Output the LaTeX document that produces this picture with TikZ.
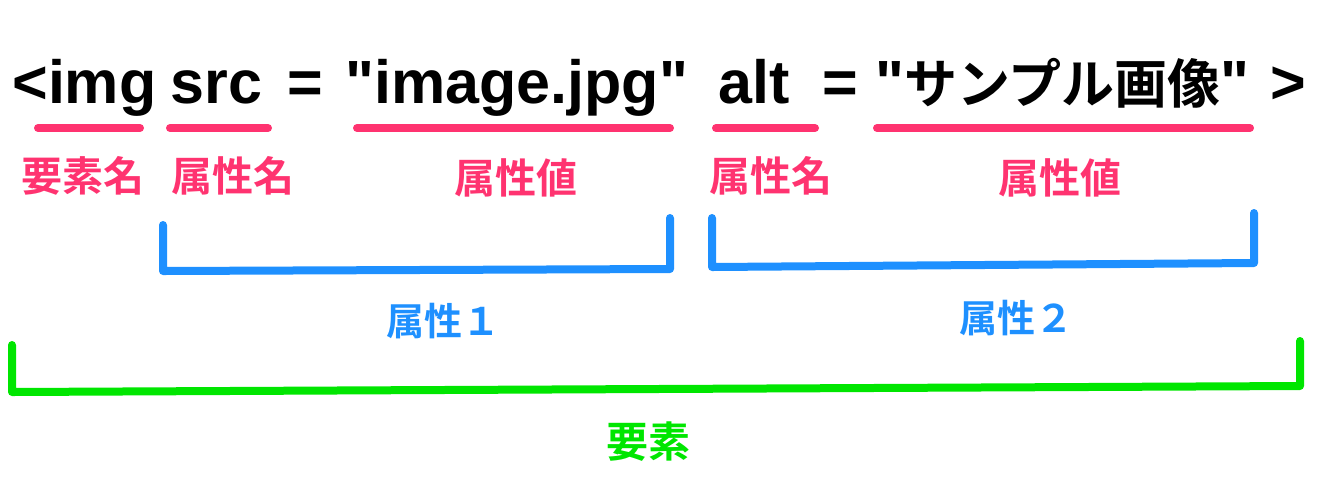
\documentclass[tikz,border=0pt]{standalone}
\usepackage{fontspec}
\setmainfont{Liberation Sans}[BoldFont=* Bold, Ligatures=NoCommon, Mapping=]
\newfontfamily\cjk{Noto Sans CJK JP}[BoldFont=* Bold]
\definecolor{pinkc}{HTML}{FF3370}
\definecolor{bluec}{HTML}{1E90FF}
\definecolor{greenc}{HTML}{00E600}
\newcommand{\dq}{{\char34}}
\tikzset{
  code/.style={anchor=base west, inner sep=0pt, font=\fontsize{30.5}{30.5}\selectfont\bfseries, text=black},
  pinklabel/.style={inner sep=0pt, font=\cjk\fontsize{20.5}{20.5}\selectfont\bfseries, text=pinkc},
  bluelabel/.style={inner sep=0pt, font=\cjk\fontsize{19}{19}\selectfont\bfseries, text=bluec},
  greenlabel/.style={inner sep=0pt, font=\cjk\fontsize{21}{21}\selectfont\bfseries, text=greenc},
  uline/.style={draw=pinkc, line width=4pt, line cap=round},
  bracket/.style={line width=4pt, line cap=round, line join=round},
}
\begin{document}
\begin{tikzpicture}[x=0.5pt, y=-0.5pt]
\useasboundingbox (0,0) rectangle (1326,500);
% code line
\node[code] (t1) at (12,103) {<img};
\node[code] (t2) at (170,103) {src};
\node[code] (t3) at (287,103) {=};
\node[code] (t4) at (345,103) {\dq image.jpg\dq};
\node[code] (t5) at (718,103) {alt};
\node[code] (t6) at (822,103) {=};
\node[code] (t7) at (875,103) {\dq{\cjk\fontsize{26.5}{26.5}\selectfont\bfseries サンプル画像}\dq};
\node[code] (t8) at (1270,103) {>};
% underlines
\coordinate (u1a) at (38,128); \coordinate (u1b) at (140,128);
\coordinate (u2a) at (170,128); \coordinate (u2b) at (268,128);
\coordinate (u3a) at (357,128); \coordinate (u3b) at (670,128);
\coordinate (u4a) at (716,128); \coordinate (u4b) at (815,128);
\coordinate (u5a) at (877,128); \coordinate (u5b) at (1250,128);
\draw[uline] (u1a) -- (u1b);
\draw[uline] (u2a) -- (u2b);
\draw[uline] (u3a) -- (u3b);
\draw[uline] (u4a) -- (u4b);
\draw[uline] (u5a) -- (u5b);
% pink labels
\node[pinklabel] (l1) at (83,176) {要素名};
\node[pinklabel] (l2) at (233,176) {属性名};
\node[pinklabel] (l3) at (516,178) {属性値};
\node[pinklabel] (l4) at (771,176) {属性名};
\node[pinklabel] (l5) at (1060,178) {属性値};
% blue brackets
\draw[bracket, draw=bluec] (163,225) -- (163,271) -- (670,269) -- (670,218);
\draw[bracket, draw=bluec] (712,218) -- (712,267) -- (1254,263) -- (1254,213);
\node[bluelabel] (a1) at (443,321) {属性１};
\node[bluelabel] (a2) at (1016,318) {属性２};
% green bracket
\draw[bracket, draw=greenc] (12,345) -- (12,392) -- (1300,386) -- (1300,341);
\node[greenlabel] (e) at (648,442) {要素};
\end{tikzpicture}
\end{document}
